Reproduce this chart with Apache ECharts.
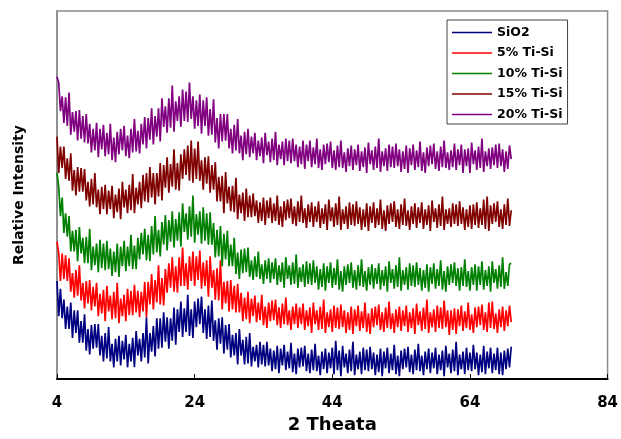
<!DOCTYPE html>
<html>
<head>
<meta charset="utf-8">
<script src="https://cdn.jsdelivr.net/npm/echarts@6/dist/echarts.min.js"></script>
<style>
  html, body { margin: 0; padding: 0; background: #fff; }
  #chart { width: 621px; height: 439px; }
</style>
</head>
<body>
<div id="chart"></div>
<script>
// XRD scans of silica and Ti-doped silica, recorded from 4 to 70 deg (2θ) in 0.25 deg steps.
const thetaStart = 4;
const thetaStep = 0.25;
const xTicks = [4, 24, 44, 64, 84];
const seriesNames = ['SiO2', '5% Ti-Si', '10% Ti-Si', '15% Ti-Si', '20% Ti-Si'];
const seriesColors = ['#000080', '#ff0000', '#008000', '#800000', '#800080'];

// Relative intensity (arbitrary units, curves stacked by offset)
const sio2 = [
  100,64,92,62, 81,51,74,51, 78,42,70,47, 70,37,59,37, 66,29,51,25,
  55,31,56,32, 56,24,44,18, 47,21,53,18, 36,12,41,18, 44,14,39,20,
  45,12,36,18, 42,12,49,24, 41,18,47,22, 63,16,47,28, 54,23,62,31,
  62,32,68,38, 63,31,62,39, 73,35,71,48, 79,43,72,48, 86,44,71,42,
  79,53,82,56, 84,47,71,41, 75,43,80,39, 60,30,62,36, 63,26,55,30,
  56,22,45,24, 47,15,51,24, 40,15,43,16, 47,13,33,18, 35,12,38,15,
  35,13,38,14, 31,8,29,10, 34,6,31,14, 35,9,28,11, 37,7,26,5,
  31,12,32,13, 34,8,26,6, 30,9,36,8, 24,4,28,10, 31,6,27,11,
  32,5,39,9, 29,3,34,12, 26,6,30,8, 38,4,25,10, 28,5,32,9,
  30,8,33,10, 27,4,25,7, 31,3,28,11, 32,6,26,9, 35,5,24,3,
  29,10,31,12, 33,7,25,5, 30,9,36,8, 24,4,28,10, 31,6,27,11,
  32,5,25,9, 29,3,34,12, 26,6,30,8, 38,4,25,10, 28,5,32,9,
  27,8,35,10, 27,4,25,7, 34,5,28,11, 32,6,26,9, 32,5,27,4,
  29,10,31,12, 33
];
const ti5 = [
  140,128,100,128, 102,126,100,123, 89,108,83,111, 85,116,80,98, 72,100,77,101,
  70,94,74,98, 64,87,67,91, 59,95,69,85, 61,89,62,98, 57,82,64,86,
  59,92,65,90, 65,96,68,90, 63,89,69,99, 63,99,76,107, 71,101,78,116,
  76,103,75,112, 88,118,93,124, 89,115,88,124, 95,134,95,118, 91,125,100,130,
  95,125,101,131, 92,119,95,121, 84,125,93,111, 81,113,80,121, 71,99,77,100,
  69,101,71,95, 68,97,68,88, 59,83,61,89, 57,82,64,85, 58,78,60,86,
  55,74,52,78, 59,80,60,81, 55,73,52,77, 56,83,55,70, 50,74,56,77,
  52,73,56,77, 50,70,54,73, 47,78,56,70, 50,74,51,81, 47,68,53,71,
  48,75,52,73, 51,76,53,70, 47,68,50,74, 46,71,54,75, 49,69,52,78,
  48,67,46,72, 53,74,55,76, 50,68,48,73, 52,79,51,67, 47,71,53,74,
  49,70,54,75, 48,68,52,72, 46,77,55,69, 49,73,51,81, 47,68,53,71,
  48,75,52,73, 51,80,53,70, 45,70,50,72, 46,71,54,75, 49,69,52,78,
  50,66,47,73, 53,74,55,76, 50,68,48,78, 52,79,51,67, 47,71,53,74,
  49,70,54,75, 58
];
const ti10 = [
  210,196,166,185, 149,169,145,166, 130,151,130,152, 120,155,128,144, 118,145,118,153,
  111,135,116,138, 109,142,113,138, 111,141,112,133, 105,130,109,138, 104,135,115,141,
  110,135,115,147, 112,136,112,144, 122,149,127,153, 121,147,120,156, 127,166,129,152,
  125,160,137,167, 131,162,140,171, 134,163,141,170, 135,179,150,169, 142,176,145,187,
  139,168,147,171, 138,175,141,169, 137,170,137,159, 124,152,125,156, 115,148,122,151,
  115,137,115,144, 107,129,102,132, 108,133,109,134, 104,121,101,125, 104,130,102,117,
  97,121,102,123, 98,119,102,123, 96,116,99,119, 93,124,102,116, 96,119,97,127,
  93,114,99,117, 94,120,97,118, 96,121,98,115, 91,112,94,118, 90,115,98,119,
  93,113,96,122, 91,110,89,115, 96,117,98,119, 93,111,91,116, 95,122,94,110,
  90,114,96,117, 92,113,97,118, 91,111,95,115, 89,120,98,112, 92,116,94,124,
  90,111,96,114, 91,118,95,116, 94,119,96,113, 90,111,93,117, 89,114,97,118,
  92,112,95,121, 91,110,89,115, 96,117,98,119, 95,113,90,114, 95,122,94,110,
  90,114,96,117, 90,115,96,120, 91,111,95,115, 89,120,98,112, 92,116,94,124,
  92,109,95,117, 118
];
const ti15 = [
  247,210,237,215, 237,204,225,202, 230,192,213,187, 216,191,215,191, 214,182,201,176,
  204,178,210,175, 193,168,196,173, 198,168,192,173, 197,164,188,170, 194,163,201,175,
  193,169,198,172, 209,169,195,178, 201,174,208,181, 210,180,216,185, 210,178,210,186,
  220,182,218,195, 226,190,219,196, 234,193,220,192, 229,204,234,208, 238,202,243,200,
  235,204,242,202, 223,193,226,199, 227,190,218,193, 221,181,206,181, 207,169,211,179,
  196,171,197,170, 205,163,188,169, 190,161,194,165, 187,165,189,166, 182,159,180,161,
  185,157,182,164, 185,159,179,161, 187,157,176,155, 181,162,183,164, 184,158,176,156,
  181,160,187,159, 174,154,178,160, 180,155,176,160, 181,154,174,158, 178,152,183,161,
  175,155,179,157, 186,152,173,158, 176,153,180,157, 178,156,181,158, 175,152,173,155,
  179,151,176,159, 180,154,174,157, 183,153,172,151, 177,158,179,160, 181,155,173,153,
  178,157,184,156, 172,152,176,158, 179,154,175,159, 180,153,173,157, 177,151,182,160,
  174,154,178,156, 186,152,173,158, 174,155,179,158, 178,156,181,158, 175,152,173,155,
  177,153,178,157, 180,154,174,157, 183,153,186,151, 177,158,179,160, 181,155,173,153,
  178,157,184,156, 172
];
const ti20 = [
  308,302,273,288, 261,287,258,292, 249,272,252,273, 243,274,245,268, 241,270,240,260,
  231,255,233,261, 226,255,234,259, 227,251,229,260, 223,246,221,252, 229,255,233,258,
  227,248,225,255, 231,265,232,253, 230,260,239,267, 235,266,244,276, 239,268,247,276,
  242,286,257,278, 251,286,256,299, 252,283,263,288, 257,295,263,293, 262,302,265,288,
  255,284,258,290, 250,284,258,287, 248,275,249,285, 241,266,235,270, 242,270,243,270,
  235,255,230,259, 233,265,230,248, 223,252,229,255, 226,247,230,251, 223,243,227,246,
  220,251,228,242, 221,245,223,252, 218,239,224,242, 218,245,222,243, 220,245,222,239,
  216,237,219,243, 214,239,222,243, 216,236,219,245, 215,234,213,239, 219,240,221,242,
  215,233,213,238, 216,243,215,231, 211,235,217,238, 213,234,218,239, 212,232,216,236,
  210,241,219,233, 213,237,215,245, 211,232,217,235, 212,239,216,237, 215,240,217,234,
  211,232,214,238, 210,235,218,239, 213,233,216,242, 212,231,210,236, 217,238,219,240,
  214,232,212,237, 216,243,215,231, 213,233,216,240, 213,234,218,239, 210,234,217,235,
  210,241,219,233, 213,237,215,245, 211,232,217,235, 214,236,218,239, 215,240,217,234,
  211,232,214,238, 224
];

const seriesValues = [sio2, ti5, ti10, ti15, ti20];
const FONT = 'DejaVu Sans';

// pair each intensity with its 2θ position on the scan grid
const toPoints = vals => vals.map((v, i) => [thetaStart + i * thetaStep, v]);

const chart = echarts.init(document.getElementById('chart'), null, { renderer: 'canvas' });

chart.setOption({
  animation: false,
  backgroundColor: '#ffffff',
  grid: {
    left: 57, right: 9, top: 11, bottom: 53,
    show: true, borderColor: '#8a8a8a', borderWidth: 1.5, backgroundColor: 'transparent'
  },
  xAxis: {
    type: 'value',
    min: xTicks[0],
    max: xTicks[xTicks.length - 1],
    interval: xTicks[1] - xTicks[0],
    name: '2 Theata',
    nameLocation: 'middle',
    nameGap: 33,
    nameTextStyle: { fontFamily: FONT, fontWeight: 'bold', fontSize: 18, color: '#000' },
    axisLine: { show: true, lineStyle: { color: '#000', width: 2 } },
    axisTick: { show: true, inside: true, length: 5, lineStyle: { color: '#000', width: 1 } },
    axisLabel: {
      margin: 17, fontFamily: FONT, fontWeight: 'bold', fontSize: 15, color: '#000',
      showMinLabel: true, showMaxLabel: true
    },
    splitLine: { show: false }
  },
  yAxis: {
    type: 'value',
    min: 0,
    max: 375,
    name: 'Relative Intensity',
    nameLocation: 'middle',
    nameRotate: 90,
    nameGap: 31,
    nameTextStyle: { fontFamily: FONT, fontWeight: 'bold', fontSize: 14, color: '#000' },
    axisLine: { show: true, lineStyle: { color: '#8a8a8a', width: 1.5 } },
    axisTick: { show: false },
    axisLabel: { show: false },
    splitLine: { show: false }
  },
  legend: {
    orient: 'vertical',
    left: 447,
    top: 20,
    padding: [6, 5, 3, 5],
    icon: 'rect',
    itemWidth: 40,
    itemHeight: 1.5,
    itemGap: 7.5,
    itemTextGap: 4,
    backgroundColor: '#fff',
    borderColor: '#404040',
    borderWidth: 1,
    borderRadius: 0,
    textStyle: { fontFamily: FONT, fontWeight: 'bold', fontSize: 12.5, color: '#000' },
    data: seriesNames
  },
  series: seriesNames.map((name, k) => ({
    name,
    type: 'line',
    data: toPoints(seriesValues[k]),
    symbol: 'none',
    showSymbol: false,
    sampling: null,
    color: seriesColors[k],
    lineStyle: { color: seriesColors[k], width: 1.7 },
    emphasis: { disabled: true }
  }))
});
</script>
</body>
</html>
